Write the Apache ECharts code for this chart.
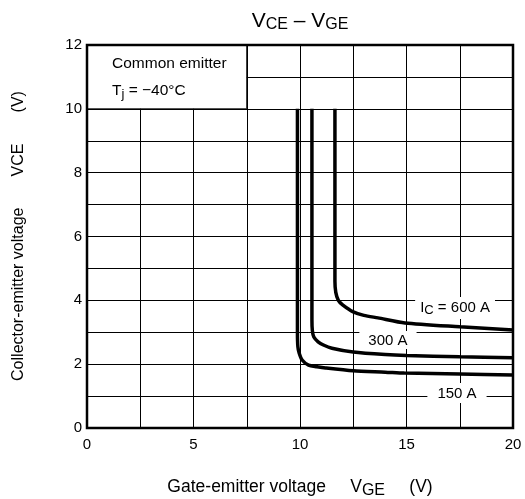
<!DOCTYPE html>
<html><head><meta charset="utf-8">
<script src="https://cdn.jsdelivr.net/npm/echarts@6/dist/echarts.min.js"></script>
<style>html,body{margin:0;padding:0;background:#fff}#c{width:525px;height:499px}</style>
</head><body><div id="c"></div>
<script>
// Data
const vge150 = [9.88, 9.88, 9.9, 9.96, 10.1, 10.4, 10.8, 11.2, 12.5, 14.0, 14.9, 17.5, 20];
const vce150 = [10, 3.0, 2.55, 2.35, 2.13, 1.97, 1.92, 1.88, 1.79, 1.75, 1.72, 1.69, 1.66];
const vge300 = [10.56, 10.56, 10.58, 10.65, 10.85, 11.1, 11.5, 12.5, 14.0, 15.0, 17.5, 20];
const vce300 = [10, 3.4, 3.05, 2.85, 2.7, 2.6, 2.5, 2.38, 2.3, 2.27, 2.23, 2.2];
const vge600 = [11.64, 11.64, 11.68, 11.8, 12.0, 12.5, 13.0, 13.66, 14.93, 17.5, 20];
const vce600 = [10, 4.6, 4.25, 4.0, 3.86, 3.64, 3.53, 3.45, 3.29, 3.17, 3.07];
const curveLabels = ['I{s|C} = 600 A', '300 A', '150 A'];
const labelPos = [[17.28, 3.76], [14.13, 2.76], [17.37, 1.10]];
const xTicks = [0, 5, 10, 15, 20];
const yTicks = [0, 2, 4, 6, 8, 10, 12];

const pairs = (xs, ys) => xs.map((x, i) => [x, ys[i]]);
const font = '"Liberation Sans", Arial, sans-serif';
const chart = echarts.init(document.getElementById('c'));
const sub = {s: {fontSize: 13, fontFamily: font, color: '#000', padding: [5, 0, 0, 0]}};
const lab = (text, pos, pad) => ({
  coord: pos, symbol: 'rect', symbolSize: 0,
  label: {show: true, position: 'inside', formatter: text, color: '#000', fontSize: 15, fontFamily: font,
    backgroundColor: '#fff', padding: pad, rich: sub}
});
const curve = (xs, ys, mp) => ({
  type: 'line', data: pairs(xs, ys), symbol: 'none', smooth: 0.25, z: 3,
  lineStyle: {color: '#000', width: 3.5}, animation: false,
  markPoint: {data: [mp], animation: false, z: 4}
});
chart.setOption({
  animation: false,
  grid: {left: 87, right: 12, top: 45, bottom: 71, show: true, borderColor: '#000', borderWidth: 2.5, backgroundColor: 'transparent', z: 10},
  xAxis: {type: 'value', min: 0, max: 20, interval: 2.5,
    axisLine: {show: false}, axisTick: {show: false},
    splitLine: {show: true, lineStyle: {color: '#000', width: 1}},
    axisLabel: {margin: 9, fontSize: 15, color: '#000', fontFamily: font,
      formatter: v => xTicks.includes(v) ? String(v) : ''}},
  yAxis: {type: 'value', min: 0, max: 12, interval: 1,
    axisLine: {show: false}, axisTick: {show: false},
    splitLine: {show: true, lineStyle: {color: '#000', width: 1}},
    axisLabel: {margin: 5, fontSize: 15, color: '#000', fontFamily: font,
      formatter: v => yTicks.includes(v) ? String(v) : ''}},
  series: [
    Object.assign(curve(vge150, vce150, lab(curveLabels[2], labelPos[2], [3, 10, 2, 10])), {
      markArea: {silent: true, itemStyle: {color: '#fff', borderColor: '#000', borderWidth: 1},
        data: [[{coord: [0, 10]}, {coord: [7.5, 12]}]]}
    }),
    curve(vge300, vce300, lab(curveLabels[1], labelPos[1], [2, 9, 1, 9])),
    curve(vge600, vce600, lab(curveLabels[0], labelPos[0], [2, 5, 2, 5]))
  ],
  graphic: [
    {type: 'text', x: 300, y: 21, style: {text: 'V{s|CE} – V{s|GE}', align: 'center', verticalAlign: 'middle',
      fontSize: 21, fontFamily: font, fill: '#000', rich: {s: {fontSize: 16, fontFamily: font, fill: '#000', padding: [7, 0, 0, 0]}}}},
    {type: 'text', x: 112, y: 64, z: 20, style: {text: 'Common emitter', align: 'left', verticalAlign: 'middle',
      fontSize: 15.5, fontFamily: font, fill: '#000'}},
    {type: 'text', x: 112, y: 91, z: 20, style: {text: 'T{s|j} = −40°C', align: 'left', verticalAlign: 'middle',
      fontSize: 15.5, fontFamily: font, fill: '#000', rich: {s: {fontSize: 13, fontFamily: font, fill: '#000', padding: [6, 0, 0, 0]}}}},
    {type: 'text', x: 300, y: 487, style: {text: 'Gate-emitter voltage     V{s|GE}     (V)', align: 'center', verticalAlign: 'middle',
      fontSize: 17.5, fontFamily: font, fill: '#000', rich: {s: {fontSize: 16, fontFamily: font, fill: '#000', padding: [7, 0, 0, 0]}}}},
    {type: 'text', x: 19, y: 236, rotation: Math.PI / 2, style: {text: 'Collector-emitter voltage       VCE       (V)', align: 'center', verticalAlign: 'middle',
      fontSize: 16, fontFamily: font, fill: '#000'}}
  ]
});
</script></body></html>
